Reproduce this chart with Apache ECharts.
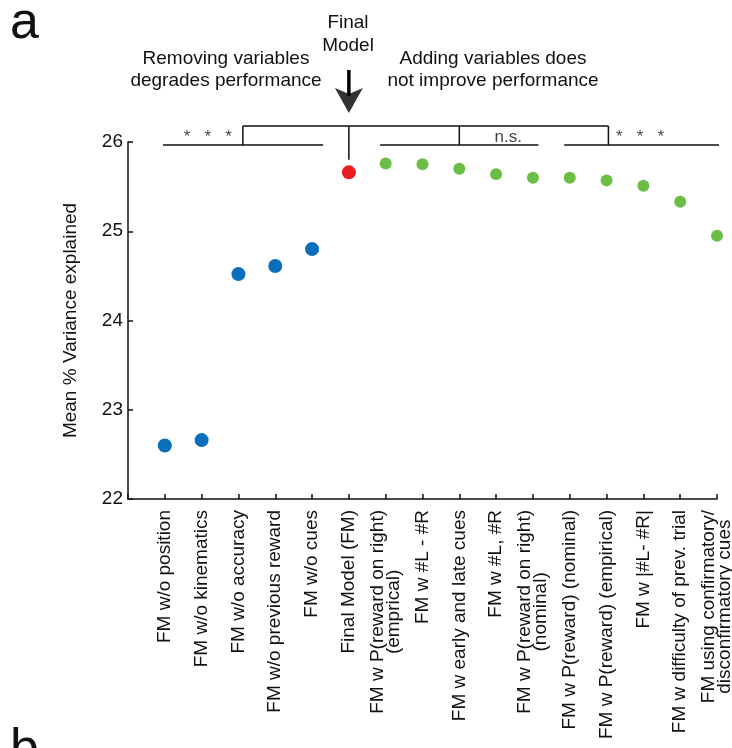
<!DOCTYPE html>
<html>
<head>
<meta charset="utf-8">
<script src="https://cdn.jsdelivr.net/npm/echarts@6/dist/echarts.min.js"></script>
<style>
html, body { margin: 0; padding: 0; background: #fff; }
#chart { width: 732px; height: 748px; }
</style>
</head>
<body>
<div id="chart"></div>
<script>
// model variants, left to right
const modelNames = [
  'FM w/o position',
  'FM w/o kinematics',
  'FM w/o accuracy',
  'FM w/o previous reward',
  'FM w/o cues',
  'Final Model (FM)',
  'FM w P(reward on right)\n(emprical)',
  'FM w #L - #R',
  'FM w early and late cues',
  'FM w #L, #R',
  'FM w P(reward on right)\n(nominal)',
  'FM w P(reward) (nominal)',
  'FM w P(reward) (empirical)',
  'FM w |#L- #R|',
  'FM w difficulty of prev. trial',
  'FM using confirmatory/\ndisconfirmatory cues'
];
const removedValues = [22.60, 22.66, 24.52, 24.61, 24.80];
const finalValue = 25.66;
const addedValues = [25.76, 25.75, 25.70, 25.64, 25.60, 25.60, 25.57, 25.51, 25.33, 24.95];
const yTicks = [22, 23, 24, 25, 26];

// significance brackets (x in model index, y in % variance)
const sigLow = 25.965, sigHigh = 26.18, stemEnd = 25.80;
const sigLines = [[-0.05, 4.3], [5.85, 10.15], [10.85, 15.17]];
const bracketDrops = [2.12, 8.0, 12.05];
const sigLabels = ['*   *   *', 'n.s.', '*   *   *'];
const sigLabelX = [1.17, 9.33, 12.91];
const arrowTop = 26.807, arrowHead = 26.465;

const finalIdx = removedValues.length;
const font = 'Liberation Sans, Arial, sans-serif';

const bracketPath = [];
function seg(a, b) { bracketPath.push(a, b, ['-', '-']); }
sigLines.forEach(s => seg([s[0], sigLow], [s[1], sigLow]));
seg([bracketDrops[0], sigHigh], [bracketDrops[bracketDrops.length - 1], sigHigh]);
bracketDrops.forEach(x => seg([x, sigHigh], [x, sigLow]));
seg([finalIdx, sigHigh], [finalIdx, stemEnd]);

const chart = echarts.init(document.getElementById('chart'));
chart.setOption({
  animation: false,
  backgroundColor: '#fff',
  textStyle: { fontFamily: font, color: '#111' },
  grid: { left: 128, right: 15, top: 142, bottom: 249, outerBoundsMode: 'none' },
  xAxis: {
    type: 'value',
    min: -1, max: modelNames.length - 1, interval: 1,
    splitLine: { show: false },
    axisLine: { onZero: false, lineStyle: { color: '#111', width: 1.5 } },
    axisTick: { inside: true, length: 5, lineStyle: { color: '#111', width: 1.5 } },
    axisLabel: {
      rotate: 90, margin: 11, fontSize: 19, color: '#111', fontFamily: font,
      showMinLabel: true, showMaxLabel: true, hideOverlap: false,
      formatter: v => {
        const name = modelNames[v];
        if (!name) return '';
        const lines = name.split('\n');
        if (lines.length < 2) return name;
        return '{a|' + lines[0] + '}\n{b|' + lines[1] + '}';
      },
      rich: {
        a: { fontSize: 19, lineHeight: 16, fontFamily: font, color: '#111' },
        b: { fontSize: 19, lineHeight: 16, fontFamily: font, color: '#111', align: 'center' }
      }
    }
  },
  yAxis: {
    type: 'value',
    min: yTicks[0], max: yTicks[yTicks.length - 1], interval: 1,
    name: 'Mean % Variance explained',
    nameLocation: 'middle', nameGap: 48,
    nameTextStyle: { fontSize: 19, color: '#111', fontFamily: font },
    splitLine: { show: false },
    axisLine: { show: true, onZero: false, lineStyle: { color: '#111', width: 1.5 } },
    axisTick: { show: true, inside: true, length: 5, lineStyle: { color: '#111', width: 1.5 } },
    axisLabel: { margin: 5, fontSize: 19, color: '#111', fontFamily: font }
  },
  series: [
    {
      type: 'scatter', symbolSize: 14,
      itemStyle: { color: '#0a6fba', opacity: 1 },
      data: removedValues.map((v, i) => [i, v])
    },
    {
      type: 'scatter', symbolSize: 14,
      itemStyle: { color: '#ec1c24', opacity: 1 },
      data: [[finalIdx, finalValue]]
    },
    {
      type: 'scatter', symbolSize: 12,
      itemStyle: { color: '#6abd45', opacity: 1 },
      data: addedValues.map((v, i) => [finalIdx + 1 + i, v])
    },
    {
      type: 'line', clip: false, silent: true,
      showSymbol: false, symbol: 'none', connectNulls: false,
      lineStyle: { color: '#111', width: 1.5 },
      data: bracketPath
    },
    {
      type: 'line', clip: false, silent: true,
      showSymbol: false, symbol: 'none',
      lineStyle: { color: '#000', width: 3.5 },
      data: [[finalIdx, arrowTop], [finalIdx, arrowHead + 0.05]]
    },
    {
      type: 'scatter', clip: false, silent: true,
      symbol: 'path://M0,0 L14,6 L28,0 L14,25 Z', symbolSize: [28, 25],
      itemStyle: { color: '#000' },
      data: [[finalIdx, arrowHead]]
    },
    {
      type: 'scatter', clip: false, silent: true,
      symbolSize: 1, itemStyle: { color: 'transparent' },
      label: {
        show: true, position: 'inside', color: '#111', fontFamily: font,
        fontSize: 17, formatter: p => p.name
      },
      data: sigLabels.map((t, i) => ({ name: t, value: [sigLabelX[i], 26.05] }))
    }
  ],
  graphic: [
    { type: 'text', x: 10, y: 24, style: { text: 'a', font: '52px ' + font, fill: '#111', verticalAlign: 'middle' } },
    { type: 'text', x: 10, y: 751, style: { text: 'b', font: '52px ' + font, fill: '#111', verticalAlign: 'middle' } },
    { type: 'text', x: 348, y: 34, style: { text: 'Final\nModel', font: '19px ' + font, lineHeight: 23, fill: '#111', align: 'center', verticalAlign: 'middle' } },
    { type: 'text', x: 226, y: 70, style: { text: 'Removing variables\ndegrades performance', font: '19px ' + font, lineHeight: 22, fill: '#111', align: 'center', verticalAlign: 'middle' } },
    { type: 'text', x: 493, y: 70, style: { text: 'Adding variables does\nnot improve performance', font: '19px ' + font, lineHeight: 22, fill: '#111', align: 'center', verticalAlign: 'middle' } }
  ]
});
</script>
</body>
</html>
